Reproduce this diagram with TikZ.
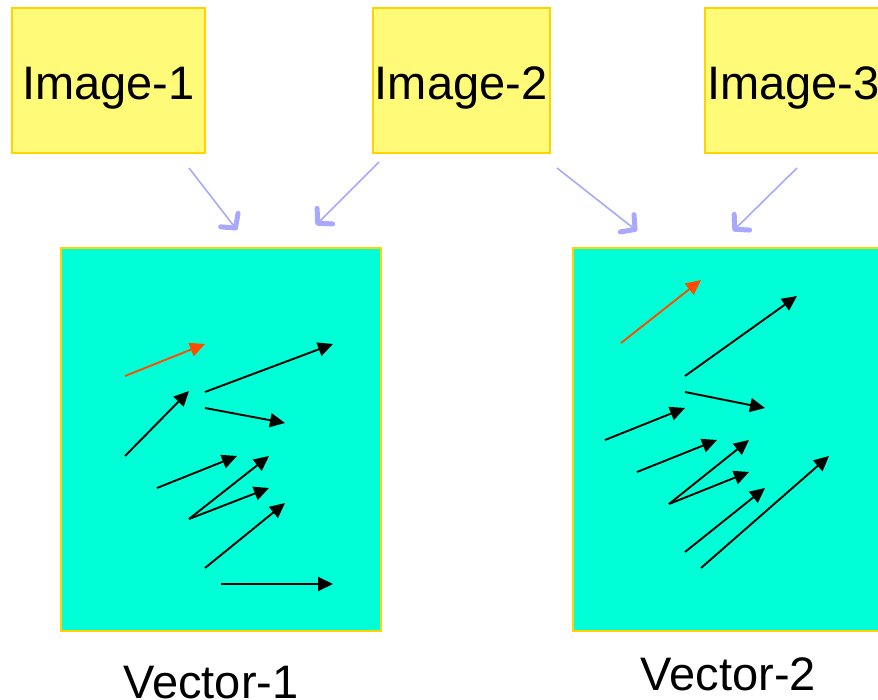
\documentclass[tikz,border=0pt]{standalone}
\usepackage{fontspec}
\setmainfont{Liberation Sans}
\usetikzlibrary{arrows.meta}
\definecolor{boxyellow}{RGB}{255,250,120}
\definecolor{boxedge}{RGB}{255,210,0}
\definecolor{panelfill}{RGB}{0,255,214}
\definecolor{linkblue}{RGB}{168,168,255}
\definecolor{vecorange}{RGB}{255,76,0}
\tikzset{
  imgbox/.style={draw=boxedge, fill=boxyellow, line width=1.5pt},
  panelbox/.style={draw=boxedge, fill=panelfill, line width=1.5pt},
  bigtext/.style={font=\fontsize{47}{50}\selectfont, anchor=base, inner sep=0pt},
  link/.style={draw=linkblue, line width=1.6pt, -{Straight Barb[length=10pt,width=22pt,line width=5pt,round]}},
  vec/.style={draw=black, line width=1.9pt, -{Triangle[length=15pt,width=14pt]}},
  vecred/.style={draw=vecorange, line width=1.9pt, -{Triangle[length=15pt,width=14pt]}},
}
\begin{document}
\begin{tikzpicture}[x=1pt,y=-1pt]
\useasboundingbox (0,0) rectangle (878,700);
\begin{scope}
\clip (0,0) rectangle (878,700);
% image boxes
\path[imgbox] (12,8) rectangle (205,153);
\path[imgbox] (373,8) rectangle (550,153);
\path[imgbox] (705,8) rectangle (885,153);
\node[bigtext] (t1) at (108.5,100) {Image-1};
\node[bigtext] (t2) at (461,100) {Image-2};
\node[bigtext, anchor=base west] (t3) at (707,100) {Image-3};
% panels
\path[panelbox] (61,248) rectangle (381,631);
\path[panelbox] (573,248) rectangle (885,631);
\node[bigtext] (v1) at (211,698) {Vector-1};
\node[bigtext] (v2) at (728.5,690) {Vector-2};
% blue links
\coordinate (a1s) at (189,168); \coordinate (a1e) at (237,230);
\coordinate (a2s) at (379,162); \coordinate (a2e) at (316,225);
\coordinate (a3s) at (557,168); \coordinate (a3e) at (637,231);
\coordinate (a4s) at (797,168); \coordinate (a4e) at (733,231);
\draw[link] (a1s) -- (a1e);
\draw[link] (a2s) -- (a2e);
\draw[link] (a3s) -- (a3e);
\draw[link] (a4s) -- (a4e);
% panel 1 vectors
\draw[vecred] (125,376) -- (205,344);
\draw[vec] (205,392) -- (333,344);
\draw[vec] (205,408) -- (285,423);
\draw[vec] (125,456) -- (189,391);
\draw[vec] (157,488) -- (237,456);
\draw[vec] (189,519) -- (269,456);
\draw[vec] (189,519) -- (269,488);
\draw[vec] (205,568) -- (285,503);
\draw[vec] (221,584) -- (333,584);
% panel 2 vectors
\draw[vecred] (621,343) -- (701,280);
\draw[vec] (685,376) -- (797,296);
\draw[vec] (685,392) -- (765,408);
\draw[vec] (605,440) -- (685,408);
\draw[vec] (637,472) -- (717,440);
\draw[vec] (669,504) -- (749,440);
\draw[vec] (669,504) -- (749,472);
\draw[vec] (685,552) -- (765,488);
\draw[vec] (701,568) -- (829,456);
\end{scope}
\end{tikzpicture}
\end{document}
